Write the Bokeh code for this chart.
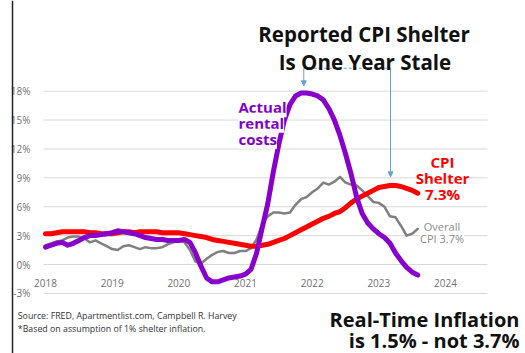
from bokeh.plotting import figure
from bokeh.models import (Range1d, LinearAxis, FixedTicker, PrintfTickFormatter,
                          Label, Arrow, NormalHead, Span)
from bokeh.embed import file_html
from bokeh.resources import INLINE

# ---------------- data (monthly YoY %, Jan 2018 .. Aug 2023) ----------------
first_year = 2018
cpi_shelter = [3.2, 3.2, 3.3, 3.4, 3.4, 3.4, 3.4, 3.4, 3.3, 3.3, 3.2, 3.2,
               3.2, 3.3, 3.4, 3.4, 3.3, 3.4, 3.4, 3.4, 3.4, 3.3, 3.3, 3.3,
               3.3, 3.2, 3.1, 3.0, 2.9, 2.8, 2.6, 2.5, 2.4, 2.3, 2.2, 2.1,
               2.0, 1.9, 1.9, 2.0, 2.1, 2.3, 2.5, 2.7, 3.0, 3.3, 3.6, 3.9,
               4.2, 4.5, 4.8, 5.0, 5.3, 5.5, 5.9, 6.4, 6.8, 7.1, 7.4, 7.7,
               8.0, 8.1, 8.2, 8.2, 8.1, 7.9, 7.7, 7.4]
overall_cpi = [2.0, 2.2, 2.4, 2.5, 2.8, 2.9, 2.9, 2.7, 2.3, 2.5, 2.2, 1.9,
               1.6, 1.5, 1.9, 2.0, 1.8, 1.6, 1.8, 1.7, 1.7, 1.8, 2.1, 2.3,
               2.5, 2.3, 1.5, 0.3, 0.1, 0.6, 1.0, 1.3, 1.4, 1.2, 1.2, 1.4,
               1.4, 1.7, 2.6, 4.2, 5.0, 5.4, 5.4, 5.3, 5.4, 6.2, 6.8, 7.0,
               7.5, 7.9, 8.5, 8.3, 8.6, 9.1, 8.5, 8.3, 8.2, 7.7, 7.1, 6.5,
               6.4, 6.0, 5.0, 4.9, 4.0, 3.0, 3.2, 3.7]
actual_rent = [1.8, 2.0, 2.2, 2.3, 2.0, 2.2, 2.5, 2.8, 3.0, 3.0, 3.1, 3.2,
               3.3, 3.5, 3.4, 3.3, 3.2, 3.0, 2.8, 2.7, 2.6, 2.6, 2.5, 2.5,
               2.5, 2.6, 2.3, 1.2, -0.2, -1.4, -1.8, -1.8, -1.6, -1.4, -1.3, -1.2,
               -1.0, -0.5, 1.2, 3.8, 6.3, 9.6, 12.5, 15.0, 16.6, 17.5, 17.8, 17.8,
               17.7, 17.5, 17.1, 16.2, 15.0, 13.4, 11.5, 9.4, 7.0, 5.3, 4.3, 3.7,
               3.2, 2.8, 2.2, 1.2, 0.4, -0.3, -0.8, -1.1]
year_ticks = [2018, 2019, 2020, 2021, 2022, 2023, 2024]
pct_ticks = [-3, 0, 3, 6, 9, 12, 15, 18]

months = [first_year + i / 12 for i in range(len(cpi_shelter))]

# ---------------- geometry ----------------
W, H = 525, 353
PX_YR = 66.67        # pixels per year
PX_PCT = 9.63        # pixels per percentage point
X_ORIGIN = 45        # px from left of 2018
Y_ORIGIN = 264       # px from top of 0 %
x_start = 2018 - X_ORIGIN / PX_YR
x_end = x_start + W / PX_YR
y_end = Y_ORIGIN / PX_PCT
y_start = y_end - H / PX_PCT

p = figure(width=W, height=H, x_range=Range1d(x_start, x_end),
           y_range=Range1d(y_start, y_end), output_backend="svg",
           toolbar_location=None, min_border=0,
           x_axis_type=None, y_axis_type=None)
p.outline_line_color = None
p.background_fill_color = "white"
p.border_fill_color = "white"

FONT = "Open Sans"
GRID_X0, GRID_X1 = 2017.97, 2024.63

# gridlines
p.segment(x0=[GRID_X0] * len(pct_ticks), y0=pct_ticks,
          x1=[GRID_X1] * len(pct_ticks), y1=pct_ticks,
          line_color="#d9d9d9", line_width=1, level="underlay")

# axes
xaxis = LinearAxis(ticker=FixedTicker(ticks=year_ticks), fixed_location=0)
yaxis = LinearAxis(ticker=FixedTicker(ticks=pct_ticks), fixed_location=GRID_X0,
                   formatter=PrintfTickFormatter(format="%d%%"))
for ax in (xaxis, yaxis):
    ax.axis_line_color = None
    ax.major_tick_line_color = None
    ax.minor_tick_line_color = None
    ax.major_tick_out = 0
    ax.major_tick_in = 0
    ax.major_label_text_font = FONT
    ax.major_label_text_font_size = "10px"
    ax.major_label_text_color = "#707070"
xaxis.major_label_standoff = 14
yaxis.major_label_standoff = 13
p.add_layout(xaxis, "below")
p.add_layout(yaxis, "left")

# series
p.line(months, overall_cpi, line_color="#808080", line_width=2.5,
       line_join="round", line_cap="round")
p.line(months, cpi_shelter, line_color="#ff0000", line_width=5,
       line_join="round", line_cap="round")
p.line(months, actual_rent, line_color="#8800cc", line_width=5,
       line_join="round", line_cap="round")

# slide border on the left
p.add_layout(Span(location=x_start + 12 / PX_YR, dimension="height",
                  line_color="#222222", line_width=1.5))

# "one year stale" bracket
BLUE = "#6a9fd4"
bracket_y = 20.38
left_x, right_x = 2021.874, 2023.175
p.add_layout(Arrow(x_start=left_x, y_start=bracket_y, x_end=right_x, y_end=bracket_y,
                   end=None, line_color=BLUE, line_width=1, line_dash="3 2"))
p.add_layout(Arrow(x_start=left_x, y_start=bracket_y, x_end=left_x, y_end=18.55,
                   end=NormalHead(size=5, fill_color=BLUE, line_color=BLUE),
                   line_color=BLUE, line_width=1))
p.add_layout(Arrow(x_start=right_x, y_start=bracket_y, x_end=right_x, y_end=9.1,
                   end=NormalHead(size=5, fill_color=BLUE, line_color=BLUE),
                   line_color=BLUE, line_width=1))


def label(text, sx, sy, size, color, align="center", bold=True, bg=None):
    lab = Label(x=sx, y=sy, x_units="screen", y_units="screen", text=text,
                text_font=FONT, text_font_size=size, text_color=color,
                text_align=align, text_baseline="alphabetic",
                text_font_style="bold" if bold else "normal")
    if bg:
        lab.background_fill_color = bg
    p.add_layout(lab)


# titles
label("Reported CPI Shelter", 363.5, 319.7, "20.5px", "#111111")
label("Is One Year Stale", 364.5, 291.3, "20.5px", "#111111")

# series annotations
PURPLE_T = "#8000c8"
label("Actual", 238, 246.3, "15px", PURPLE_T, align="left", bg="white")
label("rental", 238, 230.7, "15px", PURPLE_T, align="left", bg="white")
label("costs", 238, 214.7, "15px", PURPLE_T, align="left", bg="white")

label("CPI", 442, 191.3, "15px", "#ff0000", bg="white")
label("Shelter", 442, 175.7, "15px", "#ff0000", bg="white")
label("7.3%", 442, 159.7, "15px", "#ff0000", bg="white")

label("Overall", 441.5, 127.3, "11px", "#8a8a8a", bold=False, bg="white")
label("CPI 3.7%", 441.5, 115.3, "11px", "#8a8a8a", bold=False, bg="white")

# footnotes
label("Source: FRED, Apartmentlist.com, Campbell R. Harvey", 17.3, 37.3, "8.8px",
      "#333333", align="left", bold=False)
label("*Based on assumption of 1% shelter inflation.", 17.3, 24.7, "8.8px",
      "#333333", align="left", bold=False)

# conclusion
label("Real-Time Inflation", 519, 34.0, "20px", "#111111", align="right")
label("is 1.5% - not 3.7%", 519, 13.5, "20px", "#111111", align="right")

open("out.html", "w").write(file_html(p, INLINE))
